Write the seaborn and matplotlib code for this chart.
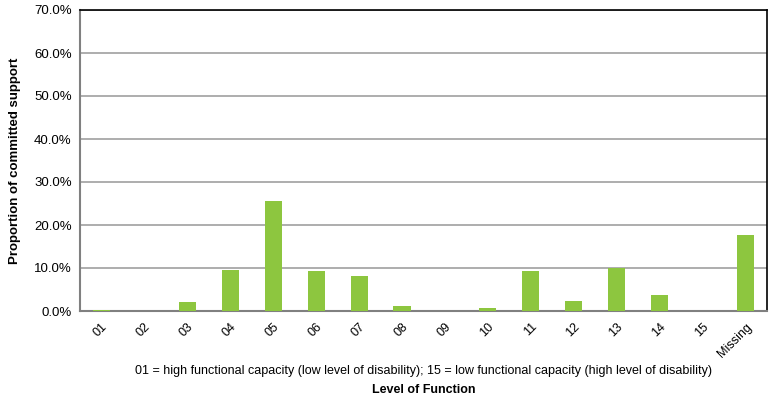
import matplotlib
matplotlib.use('Agg')
import matplotlib.pyplot as plt
import seaborn as sns
import pandas as pd
from matplotlib.ticker import FuncFormatter, MultipleLocator

# Level of function categories and proportion (%) of committed support
levels = ['01', '02', '03', '04', '05', '06', '07', '08', '09', '10',
          '11', '12', '13', '14', '15', 'Missing']
proportion = [0.2, 0.0, 2.2, 9.6, 25.5, 9.2, 8.1, 1.1, 0.0, 0.6,
              9.2, 2.4, 10.0, 3.7, 0.0, 17.6]

data = pd.DataFrame({'Level': levels, 'Proportion': proportion})

sns.set_style('white')
plt.rcParams['font.family'] = ['Liberation Sans', 'DejaVu Sans']
plt.rcParams['text.color'] = 'black'
plt.rcParams['axes.labelcolor'] = 'black'
plt.rcParams['xtick.color'] = 'black'
plt.rcParams['ytick.color'] = 'black'

fig = plt.figure(figsize=(7.78, 4.01), dpi=100)
ax = fig.add_axes([80 / 778, 1 - 311 / 401, 687 / 778, 301 / 401])

sns.barplot(x='Level', y='Proportion', data=data, color='#8DC63F',
            width=0.4, saturation=1, linewidth=0, ax=ax, zorder=3)

ax.set_ylim(0, 70)
ax.set_xlim(-0.5, len(levels) - 0.5)
ax.yaxis.set_major_locator(MultipleLocator(10))
ax.yaxis.set_major_formatter(FuncFormatter(lambda v, p: f'{v:.1f}%'))
ax.grid(axis='y', color='#A0A0A0', linewidth=1.2, zorder=0)

for side in ['left', 'bottom']:
    ax.spines[side].set_color('#808080')
    ax.spines[side].set_linewidth(1.5)
for side in ['top', 'right']:
    ax.spines[side].set_color('black')
    ax.spines[side].set_linewidth(1.2)

ax.tick_params(axis='y', labelsize=9.5, pad=6, length=0)
ax.tick_params(axis='x', labelsize=9, length=0, pad=7)
plt.setp(ax.get_xticklabels(), rotation=45, ha='right', rotation_mode='anchor')

ax.set_ylabel('Proportion of committed support', fontsize=9.5, fontweight='bold', labelpad=9)
ax.set_xlabel('01 = high functional capacity (low level of disability); 15 = low functional capacity (high level of disability)',
              fontsize=9, labelpad=4)
fig.text(0.5 * (80 + 767) / 778, 1 - 390 / 401, 'Level of Function',
         ha='center', va='center', fontsize=9, fontweight='bold')

fig.savefig('out.png', dpi=100)
